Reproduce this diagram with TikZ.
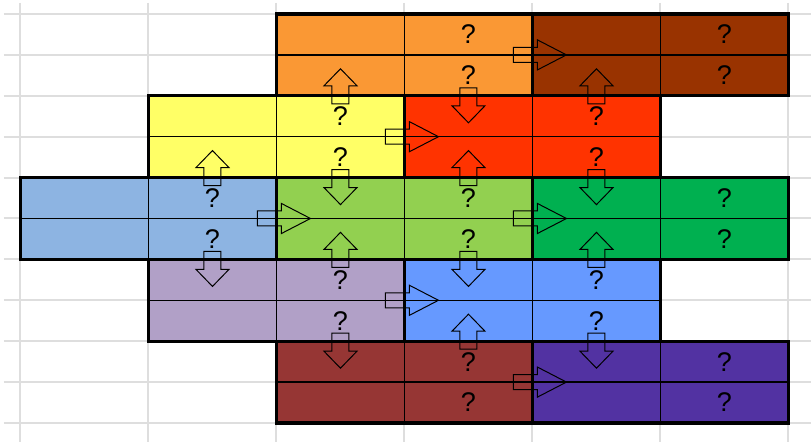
\documentclass[tikz,border=0pt]{standalone}
\usepackage{fontspec}
\setmainfont{Liberation Sans}
\usepackage{tikz}
\usetikzlibrary{positioning}

\definecolor{orangeA}{RGB}{250,152,52}
\definecolor{brownA}{RGB}{153,51,0}
\definecolor{yellowA}{RGB}{255,255,102}
\definecolor{redA}{RGB}{255,51,0}
\definecolor{blueA}{RGB}{141,180,226}
\definecolor{greenA}{RGB}{146,208,80}
\definecolor{greenB}{RGB}{0,176,80}
\definecolor{lilacA}{RGB}{177,160,199}
\definecolor{blueB}{RGB}{102,153,255}
\definecolor{redB}{RGB}{150,54,52}
\definecolor{purpleA}{RGB}{82,50,162}
\definecolor{gridA}{RGB}{222,222,222}

\begin{document}
\begin{tikzpicture}[x=64pt, y=-20.45pt,
  gridline/.style={gridA, line width=1pt},
  cellline/.style={line width=0.65pt},
  blockframe/.style={line width=1.6pt},
  blockarrow/.style={draw=black, line width=0.5pt, line join=miter},
  qmark/.style={font=\fontsize{13.5}{13.5}\selectfont, text=black, inner sep=0pt}]
\useasboundingbox (-0.16,-0.342) rectangle (6.176,10.465);

% Draw grid
\foreach \x in {0,...,6} \draw[gridline] (\x,-0.27) -- (\x,10.465);
\foreach \y in {0,...,10} \draw[gridline] (-0.13,\y) -- (6.176,\y);

% Draw blocks
\foreach \c/\r/\col in {2/0/orangeA, 4/0/brownA, 1/2/yellowA, 3/2/redA,
    0/4/blueA, 2/4/greenA, 4/4/greenB, 1/6/lilacA, 3/6/blueB,
    2/8/redB, 4/8/purpleA} {
  \fill[\col] (\c,\r) rectangle ++(2,2);
  \draw[cellline] (\c+1,\r) -- ++(0,2) (\c,\r+1) -- ++(2,0);
}
\foreach \c/\r in {2/0,4/0,1/2,3/2,0/4,2/4,4/4,1/6,3/6,2/8,4/8}
  \draw[blockframe] (\c,\r) rectangle ++(2,2);

% Question marks
\foreach \c/\r in {2/0,4/0,1/2,3/2,0/4,2/4,4/4,1/6,3/6,2/8,4/8} {
  \node[qmark] (q-\c-\r-top) at (\c+1.5,\r+0.5) {?};
  \node[qmark] (q-\c-\r-bot) at (\c+1.5,\r+1.5) {?};
}

% Right arrows
\foreach \x/\y in {4/1,3/3,2/5,4/5,3/7,4/9}
  \draw[blockarrow, shift={(\x,\y)}] (-9.5pt,-3.75pt) -- (2.5pt,-3.75pt)
    -- (2.5pt,-7.5pt) -- (17pt,0pt) -- (2.5pt,7.5pt) -- (2.5pt,3.75pt)
    -- (-9.5pt,3.75pt) -- cycle;

% Up arrows
\foreach \x/\y in {2.5/2,1.5/4,4.5/2,3.5/4,2.5/6,4.5/6,3.5/8}
  \draw[blockarrow, shift={(\x,\y)}] (-4.25pt,-4pt) -- (-4.25pt,5pt)
    -- (-8.25pt,5pt) -- (0pt,13.5pt) -- (8.25pt,5pt) -- (4.25pt,5pt)
    -- (4.25pt,-4pt) -- cycle;

% Down arrows
\foreach \x/\y in {2.5/4,3.5/2,4.5/4,1.5/6,3.5/6,2.5/8,4.5/8}
  \draw[blockarrow, shift={(\x,\y)}] (-4.25pt,4pt) -- (-4.25pt,-5pt)
    -- (-8.25pt,-5pt) -- (0pt,-13.5pt) -- (8.25pt,-5pt) -- (4.25pt,-5pt)
    -- (4.25pt,4pt) -- cycle;
\end{tikzpicture}
\end{document}
